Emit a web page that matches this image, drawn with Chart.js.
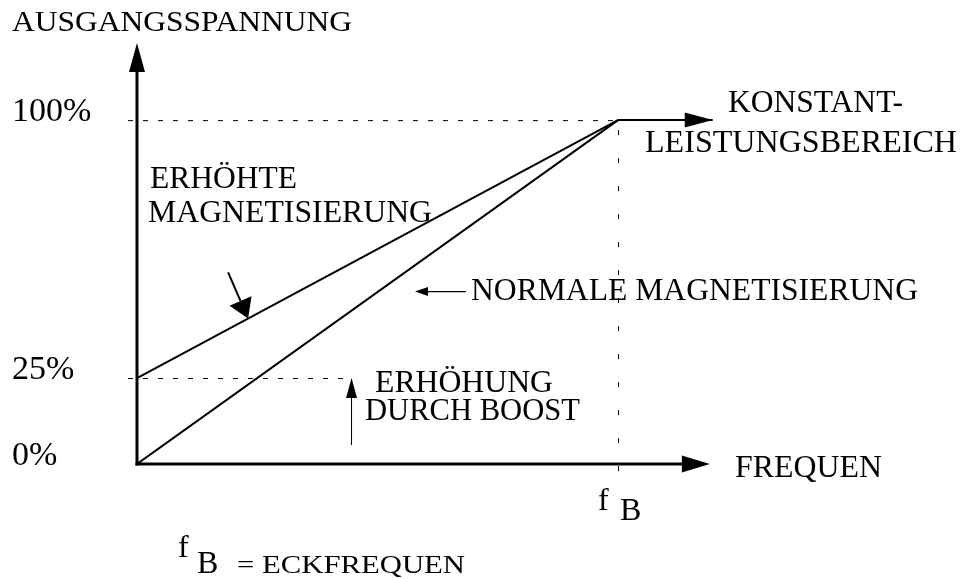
<!DOCTYPE html>
<html><head><meta charset="utf-8">
<script src="https://cdn.jsdelivr.net/npm/chart.js@4/dist/chart.umd.min.js"></script>
<style>html,body{margin:0;padding:0;background:#fff}canvas{display:block}</style>
</head><body>
<canvas id="c" width="961" height="579"></canvas>
<script>
// ---- data (frequency in % of corner frequency f_B, voltage in %) ----
const freqPoints      = [0, 100];
const normalVoltage   = [0, 100];
const boostedVoltage  = [25, 100];
const constantFreq    = [100, 119.7];
const constantVoltage = [100, 100];
const yTickValues     = [0, 25, 100];
const yTickLabels     = ['0%', '25%', '100%'];
const cornerFreq = 100;
const boostLevel = 25;
const fullLevel  = 100;

const FONT = "'Liberation Serif', 'Times New Roman', serif";

// text annotations: [text, left x, baseline y, target width, font size]
const textItems = [
  ['AUSGANGSSPANNUNG', 12, 31, 340, 29],
  ['KONSTANT-', 728, 112, 175, 31],
  ['LEISTUNGSBEREICH', 645, 152, 312, 32],
  ['ERHÖHTE', 150, 188, 147, 31],
  ['MAGNETISIERUNG', 148, 222, 284, 32],
  ['NORMALE MAGNETISIERUNG', 471, 300, 447, 32],
  ['ERHÖHUNG', 375, 392, 178, 31],
  ['DURCH BOOST', 365, 420, 215, 31],
  ['FREQUEN', 735, 477, 147, 32],
  ['f', 598, 510, 0, 32],
  ['B', 620, 520, 0, 32],
  ['f', 178, 557, 0, 32],
  ['B', 197, 573, 0, 32],
  ['= ECKFREQUEN', 237, 573, 228, 26]
];

function lineData(xs, ys){ return xs.map((x,i)=>({x:x, y:ys[i]})); }

function arrowHead(ctx, tx, ty, fx, fy, len, hw){
  const dx = tx-fx, dy = ty-fy, d = Math.hypot(dx,dy);
  const ux = dx/d, uy = dy/d;
  const bx = tx-ux*len, by = ty-uy*len;
  ctx.beginPath();
  ctx.moveTo(tx,ty);
  ctx.lineTo(bx-uy*hw, by+ux*hw);
  ctx.lineTo(bx+uy*hw, by-ux*hw);
  ctx.closePath();
  ctx.fill();
}

const decorations = {
  id: 'decorations',
  beforeDatasetsDraw(chart){
    const ctx = chart.ctx, xs = chart.scales.x, ys = chart.scales.y;
    const x0 = xs.getPixelForValue(0), y0 = ys.getPixelForValue(0);
    ctx.save();
    ctx.strokeStyle = '#000'; ctx.lineWidth = 1;
    const y100 = ys.getPixelForValue(fullLevel), xB = xs.getPixelForValue(cornerFreq);
    ctx.setLineDash([5,10]);
    ctx.beginPath(); ctx.moveTo(x0-9, y100+0.5); ctx.lineTo(xB, y100+0.5); ctx.stroke();
    const y25 = ys.getPixelForValue(boostLevel);
    ctx.beginPath(); ctx.moveTo(x0-9, y25+0.5); ctx.lineTo(xs.getPixelForValue(44.5), y25+0.5); ctx.stroke();
    ctx.setLineDash([5,23]);
    ctx.beginPath(); ctx.moveTo(xB+0.5, y100+10); ctx.lineTo(xB+0.5, y0+9); ctx.stroke();
    ctx.restore();
  },
  afterDatasetsDraw(chart){
    const ctx = chart.ctx, xs = chart.scales.x, ys = chart.scales.y;
    const X = v => xs.getPixelForValue(v), Y = v => ys.getPixelForValue(v);
    const x0 = X(0), y0 = Y(0);
    ctx.save();
    ctx.fillStyle = '#000'; ctx.strokeStyle = '#000';
    ctx.lineWidth = 3;
    const yTip = Y(122.4), xTip = X(119.1);
    ctx.beginPath(); ctx.moveTo(x0, y0+1.5); ctx.lineTo(x0, yTip+20); ctx.stroke();
    ctx.beginPath(); ctx.moveTo(x0-1.5, y0); ctx.lineTo(xTip-20, y0); ctx.stroke();
    arrowHead(ctx, x0, yTip, x0, y0, 29, 8);
    arrowHead(ctx, xTip, y0, x0, y0, 28, 8.5);
    const cx = X(constantFreq[1]), cy = Y(constantVoltage[1]);
    arrowHead(ctx, cx, cy, X(constantFreq[0]), cy, 28, 7.5);
    ctx.lineWidth = 1;
    const bx = X(44.5)+0.5;
    const bTop = Y(boostLevel), bBot = Y(5.5);
    ctx.beginPath(); ctx.moveTo(bx, bBot); ctx.lineTo(bx, bTop+15); ctx.stroke();
    arrowHead(ctx, bx, bTop, bx, bBot, 20, 5.5);
    const ny = Y(50.3)+0.5, nTip = X(57.8), nTail = X(68.4);
    ctx.lineWidth = 1.2;
    ctx.beginPath(); ctx.moveTo(nTail, ny); ctx.lineTo(nTip+8, ny); ctx.stroke();
    arrowHead(ctx, nTip, ny, nTail, ny, 13, 4.5);
    const fx = 23.1;
    const fy = boostedVoltage[0] + (boostedVoltage[1]-boostedVoltage[0]) * (fx - freqPoints[0]) / (freqPoints[1]-freqPoints[0]);
    const ex = X(fx), ey = Y(fy);
    ctx.lineWidth = 2;
    ctx.beginPath(); ctx.moveTo(ex-20, ey-46); ctx.lineTo(ex-7, ey-16); ctx.stroke();
    arrowHead(ctx, ex, ey, ex-20, ey-46, 19, 12);
    ctx.textBaseline = 'alphabetic'; ctx.textAlign = 'left';
    textItems.forEach(([t, x, y, w, s]) => {
      ctx.font = s + 'px ' + FONT;
      const m = ctx.measureText(t).width;
      const k = w > 0 ? w / m : 1;
      ctx.save(); ctx.translate(x, y); ctx.scale(k, 1); ctx.fillText(t, 0, 0); ctx.restore();
    });
    ctx.restore();
  }
};

new Chart(document.getElementById('c'), {
  type: 'scatter',
  data: {
    datasets: [
      { label: 'Normale Magnetisierung', data: lineData(freqPoints, normalVoltage), showLine: true, borderColor: '#000', borderWidth: 2, pointRadius: 0, fill: false },
      { label: 'Erhöhte Magnetisierung', data: lineData(freqPoints, boostedVoltage), showLine: true, borderColor: '#000', borderWidth: 2, pointRadius: 0, fill: false },
      { label: 'Konstantleistungsbereich', data: lineData(constantFreq, constantVoltage), showLine: true, borderColor: '#000', borderWidth: 2, pointRadius: 0, fill: false }
    ]
  },
  options: {
    responsive: false, animation: false, devicePixelRatio: 1,
    layout: { padding: { left: 12, top: 20.24, right: 222.75, bottom: 115 } },
    plugins: { legend: { display: false }, tooltip: { enabled: false } },
    scales: {
      x: { type: 'linear', min: 0, max: 125, display: false },
      y: {
        type: 'linear', min: 0, max: 129,
        grid: { display: false, drawTicks: false }, border: { display: false },
        afterBuildTicks: s => { s.ticks = yTickValues.map(v => ({ value: v })); },
        afterFit: s => { s.width = 125; },
        ticks: {
          autoSkip: false, crossAlign: 'far', padding: 0, labelOffset: -8, color: '#000',
          font: { family: FONT, size: 34 },
          callback: (v, i) => yTickLabels[i]
        }
      }
    }
  },
  plugins: [decorations]
});
</script>
</body></html>
